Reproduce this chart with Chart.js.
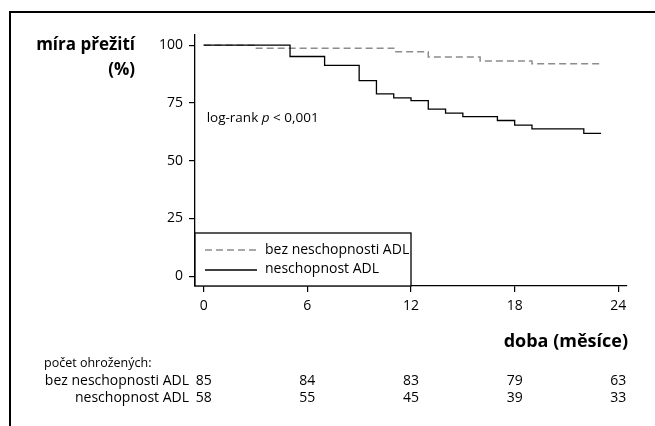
<!DOCTYPE html>
<html>
<head>
<meta charset="utf-8">
<script src="https://cdn.jsdelivr.net/npm/chart.js@4"></script>
<style>
  html, body { margin: 0; padding: 0; background: #fff; }
  #wrap { width: 655px; height: 426px; }
</style>
</head>
<body>
<div id="wrap"><canvas id="kmChart" width="655" height="426"></canvas></div>
<script>
// Kaplan-Meier steps (time in months, survival %)
const noDisTimes = [0, 3, 11, 13, 16, 19, 23];
const noDisSurv = [100, 98.7, 97.2, 94.9, 93.2, 92.0, 92.0];
const disTimes = [0, 5, 7, 9, 10, 11, 12, 13, 14, 15, 17, 18, 19, 22, 23];
const disSurv = [100, 95.1, 91.3, 84.7, 78.9, 77.2, 76.0, 72.3, 70.6, 69.1, 67.4, 65.4, 63.8, 61.8, 61.8];

const xTicks = [0, 6, 12, 18, 24];
const yTicks = [0, 25, 50, 75, 100];

// numbers at risk
const riskTimes = [0, 6, 12, 18, 24];
const riskNoDis = [85, 84, 83, 79, 63];
const riskDis = [58, 55, 45, 39, 33];

const labelNoDis = "bez neschopnosti ADL";
const labelDis = "neschopnost ADL";

const FONT = "'Open Sans', 'DejaVu Sans', sans-serif";
const GRAY = "#8c8c8c";

function toPoints(xs, ys) {
    return xs.map((x, i) => ({ x: x, y: ys[i] }));
}

const extras = {
    id: "extras",
    afterDraw(chart) {
        const ctx = chart.ctx;
        const area = chart.chartArea;
        const xs = chart.scales.x;
        const ys = chart.scales.y;
        ctx.save();

        // outer frame (top and left only visible)
        ctx.strokeStyle = "#000";
        ctx.lineWidth = 2;
        ctx.beginPath();
        ctx.moveTo(10, 426);
        ctx.lineTo(10, 12);
        ctx.lineTo(655, 12);
        ctx.stroke();

        ctx.fillStyle = "#000";
        ctx.textBaseline = "middle";

        // axis titles
        ctx.font = "bold 17px " + FONT;
        ctx.textAlign = "right";
        ctx.fillText("míra přežití", 135, 45);
        ctx.fillText("(%)", 135, 70);
        ctx.font = "bold 18px " + FONT;
        ctx.fillText("doba (měsíce)", area.right + 1, 342);

        // log-rank note
        ctx.textAlign = "left";
        ctx.font = "13.5px " + FONT;
        let tx = xs.getPixelForValue(0) + 3;
        const ty = ys.getPixelForValue(68.5);
        ctx.fillText("log-rank ", tx, ty);
        tx += ctx.measureText("log-rank ").width;
        ctx.font = "italic 13.5px " + FONT;
        ctx.fillText("p", tx, ty);
        tx += ctx.measureText("p").width;
        ctx.font = "13.5px " + FONT;
        ctx.fillText(" < 0,001", tx, ty);

        // legend box
        const lx0 = area.left;
        const lx1 = xs.getPixelForValue(12);
        const ly0 = 233;
        const ly1 = area.bottom;
        ctx.fillStyle = "#fff";
        ctx.fillRect(lx0, ly0, lx1 - lx0, ly1 - ly0);
        ctx.strokeStyle = "#000";
        ctx.lineWidth = 1.3;
        ctx.strokeRect(lx0, ly0, lx1 - lx0, ly1 - ly0);

        ctx.lineWidth = 1.3;
        ctx.strokeStyle = GRAY;
        ctx.setLineDash([7, 4]);
        ctx.beginPath();
        ctx.moveTo(lx0 + 10, 250);
        ctx.lineTo(lx0 + 62, 250);
        ctx.stroke();
        ctx.setLineDash([]);
        ctx.strokeStyle = "#000";
        ctx.beginPath();
        ctx.moveTo(lx0 + 10, 270);
        ctx.lineTo(lx0 + 62, 270);
        ctx.stroke();

        ctx.fillStyle = "#000";
        ctx.font = "14px " + FONT;
        ctx.textAlign = "left";
        ctx.fillText(labelNoDis, lx0 + 70, 250);
        ctx.fillText(labelDis, lx0 + 70, 269);

        // numbers at risk table
        ctx.font = "12.5px " + FONT;
        ctx.textAlign = "left";
        ctx.fillText("počet ohrožených:", 44, 363);
        ctx.font = "14px " + FONT;
        ctx.textAlign = "right";
        ctx.fillText(labelNoDis, 189, 381);
        ctx.fillText(labelDis, 189, 398);
        ctx.textAlign = "center";
        riskTimes.forEach((t, i) => {
            const px = xs.getPixelForValue(t);
            ctx.fillText(String(riskNoDis[i]), px, 381);
            ctx.fillText(String(riskDis[i]), px, 398);
        });

        ctx.restore();
    }
};

const axisCommon = {
    type: "linear",
    grid: { drawOnChartArea: false, drawTicks: true, tickLength: 6, color: "#000", lineWidth: 1.2 },
    border: { display: true, color: "#000", width: 1.3 },
    ticks: { color: "#000", font: { family: FONT, size: 14 }, padding: 6, maxRotation: 0 }
};

new Chart(document.getElementById("kmChart").getContext("2d"), {
    type: "line",
    data: {
        datasets: [
            {
                label: labelNoDis,
                data: toPoints(noDisTimes, noDisSurv),
                borderColor: GRAY,
                borderWidth: 1.5,
                borderDash: [7, 4],
                stepped: "before",
                pointRadius: 0,
                fill: false,
                order: 2
            },
            {
                label: labelDis,
                data: toPoints(disTimes, disSurv),
                borderColor: "#000",
                borderWidth: 1.3,
                stepped: "before",
                pointRadius: 0,
                fill: false,
                order: 1
            }
        ]
    },
    options: {
        responsive: false,
        animation: false,
        layout: { padding: { left: 135, right: 28, top: 35, bottom: 110 } },
        plugins: { legend: { display: false }, tooltip: { enabled: false } },
        scales: {
            x: {
                ...axisCommon,
                min: -0.5,
                max: 24.5,
                afterBuildTicks: (s) => { s.ticks = xTicks.map((v) => ({ value: v })); },
                afterFit: (s) => { s.height = 30; }
            },
            y: {
                ...axisCommon,
                min: -4.2,
                max: 104.4,
                afterBuildTicks: (s) => { s.ticks = yTicks.map((v) => ({ value: v })); },
                afterFit: (s) => { s.width = 60; }
            }
        }
    },
    plugins: [extras]
});
</script>
</body>
</html>
